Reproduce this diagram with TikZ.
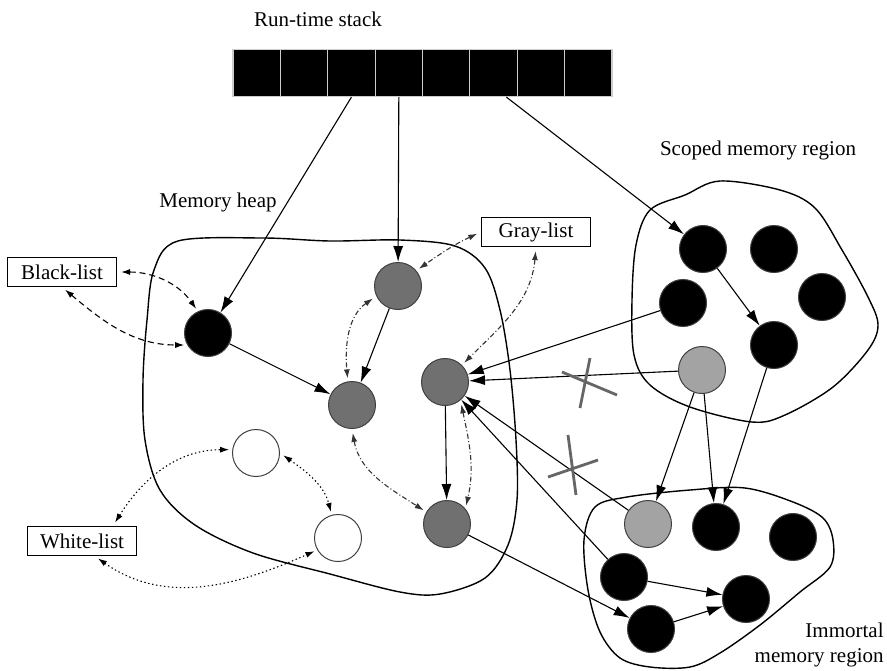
\documentclass[tikz,border=0pt]{standalone}
\usepackage{fontspec}
\setmainfont{Liberation Serif}
\usetikzlibrary{arrows.meta}
\definecolor{heapgray}{gray}{0.44}
\definecolor{litegray}{gray}{0.64}
\begin{document}
\begin{tikzpicture}[x=0.5pt, y=-0.5pt,
    obj/.style={circle, minimum size=23.5pt, inner sep=0pt, fill=#1, draw=black!75, line width=0.5pt},
    cell/.style={draw=gray!40, fill=black, minimum width=23.69pt, minimum height=23.5pt, inner sep=0pt, line width=0.6pt},
    listbox/.style={draw, line width=0.6pt, minimum width=54.5pt, minimum height=14.5pt, inner sep=1pt, font=\fontsize{10.5}{12.5}\selectfont},
    lbl/.style={font=\fontsize{10.5}{12.5}\selectfont, inner sep=0pt},
    region/.style={line width=0.7pt},
    arrow/.style={-{Latex[length=8pt,width=5pt]}, line width=0.55pt},
    listarrow/.style={{Latex[length=4.5pt,width=3pt]}-{Latex[length=4.5pt,width=3pt]}, line width=0.55pt, shorten <=2pt, shorten >=1.5pt},
    blink/.style={listarrow, dash pattern=on 3pt off 2pt},
    glink/.style={listarrow, black!80, dash pattern=on 2.5pt off 1.2pt on 0.5pt off 1.2pt},
    wlink/.style={listarrow, dash pattern=on 0.7pt off 1.3pt},
    xmark/.style={draw=black!60, line width=1.4pt}
]
\useasboundingbox (0,0) rectangle (887,670);

% run-time stack
\node[lbl] (title) at (318,19) {Run-time stack};
\foreach \i in {1,...,8}
    \node[cell] (cell\i) at ({233+47.375*(\i-0.5)},73) {};

% regions
\draw[region] plot[smooth cycle, tension=0.55] coordinates {(178,241) (263,238) (330,241) (400,240) (455,246) (485,268) (500,310) (510,370) (516,440) (517,500) (508,545) (485,578) (440,594) (400,592) (330,574) (253,553) (195,525) (160,490) (145,440) (143,380) (147,320) (154,270)};
\draw[region] plot[smooth cycle, tension=0.55] coordinates {(650,210) (685,195) (720,181) (780,190) (815,208) (842,250) (868,297) (878,325) (868,350) (833,387) (785,415) (752,422) (690,407) (650,385) (634,355) (632,300) (636,245)};
\draw[region] plot[smooth cycle, tension=0.55] coordinates {(595,507) (627,497) (690,490) (745,488) (793,502) (823,518) (833,540) (830,567) (800,592) (760,625) (720,653) (690,667) (650,667) (620,658) (600,632) (588,590) (584,540)};

\node[lbl] (heaplbl) at (218,202) {Memory heap};
\node[lbl] (scopelbl) at (758,150) {Scoped memory region};
\node[lbl, align=right, anchor=east] (immlbl) at (884,645) {Immortal\\memory region};

% heap objects
\node[obj=black] (hblk) at (208,333) {};
\node[obj=heapgray] (gtop) at (398,286) {};
\node[obj=heapgray] (gmid) at (352,405) {};
\node[obj=heapgray] (gright) at (445,382) {};
\node[obj=heapgray] (gbot) at (447,524) {};
\node[obj=white] (w1) at (256,453) {};
\node[obj=white] (w2) at (338,538) {};

% scoped objects
\node[obj=black] (s1) at (703,249) {};
\node[obj=black] (s2) at (774,249) {};
\node[obj=black] (s3) at (683,303) {};
\node[obj=black] (s4) at (822,297) {};
\node[obj=black] (s5) at (774,345) {};
\node[obj=litegray] (sg) at (702,370) {};

% immortal objects
\node[obj=litegray] (ig) at (648,524) {};
\node[obj=black] (i1) at (716,527) {};
\node[obj=black] (i2) at (793,537) {};
\node[obj=black] (i3) at (624,577) {};
\node[obj=black] (i4) at (746,599) {};
\node[obj=black] (i5) at (651,629) {};

% lists
\node[listbox] (blist) at (62,272) {Black-list};
\node[listbox] (glist) at (536,232) {Gray-list};
\node[listbox] (wlist) at (82,541) {White-list};

% references
\draw[arrow] (cell3.south) -- (hblk);
\draw[arrow] (cell4.south) -- (gtop);
\draw[arrow] (cell6.-62) -- (s1);
\draw[arrow] (hblk) -- (gmid);
\draw[arrow] (gtop) -- (gmid);
\draw[arrow] (gright) -- (gbot);
\draw[arrow] (gbot) -- (i5);
\draw[arrow] (s1) -- (s5);
\draw[arrow] (s3) -- (gright);
\draw[arrow] (sg) -- (gright);
\draw[arrow] (ig) -- (gright);
\draw[arrow] (i3) -- (gright);
\draw[arrow] (sg) -- (ig);
\draw[arrow] (sg) -- (i1);
\draw[arrow] (s5) -- (i1);
\draw[arrow] (i3) -- (i4);
\draw[arrow] (i5) -- (i4);

% forbidden references
\draw[xmark] (587,382) +(-25,-10) -- +(30,13) +(3,-24) -- +(-7,26);
\draw[xmark] (572,469) +(-24,8) -- +(26,-9) +(-4,-34) -- +(4,26);

% list links
\draw[blink] (blist.east) to[out=0,in=125] (hblk.115);
\draw[blink] (blist.south) to[out=-40,in=180] (hblk.-150);
\draw[glink] (glist.west) to[out=205,in=35] (gtop.40);
\draw[glink] (glist.south) to[out=-95,in=45] (gright.45);
\draw[glink] (gtop.205) to[out=215,in=95] (gmid.100);
\draw[glink] (gright.-50) to[out=-78,in=77] (gbot.40);
\draw[glink] (gmid.south) to[out=-80,in=147] (gbot.150);
\draw[wlink] (wlist.26) to[out=58,in=180] (w1.172);
\draw[wlink] (wlist.-50) to[out=-35,in=204] (w2.-150);
\draw[wlink] (w1.east) to[out=-35,in=105] (w2.105);
\end{tikzpicture}
\end{document}
